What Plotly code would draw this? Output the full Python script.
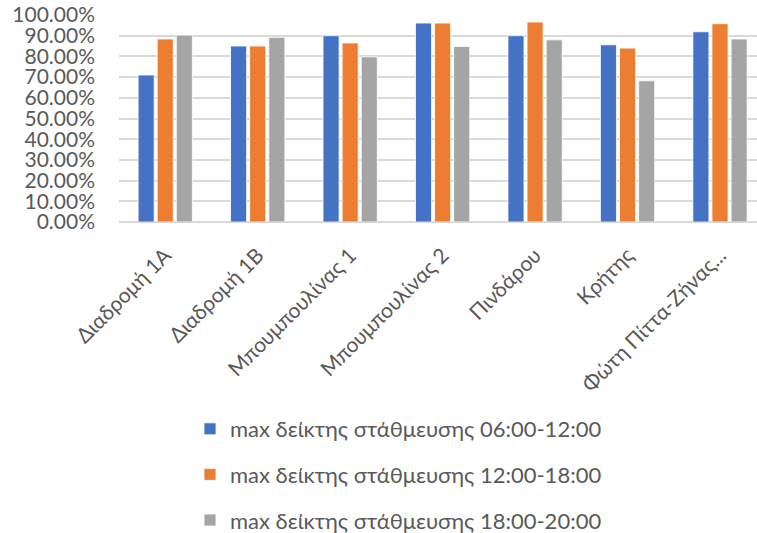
import plotly.graph_objects as go

# Peak parking occupancy per street segment, by time window
categories = ["Διαδρομή 1Α", "Διαδρομή 1Β", "Μπουμπουλίνας 1", "Μπουμπουλίνας 2",
              "Πινδάρου", "Κρήτης", "Φώτη Πίττα-Ζήνας..."]
series_names = ["max δείκτης στάθμευσης 06:00-12:00",
                "max δείκτης στάθμευσης 12:00-18:00",
                "max δείκτης στάθμευσης 18:00-20:00"]
morning = [0.710, 0.850, 0.900, 0.961, 0.900, 0.856, 0.919]
afternoon = [0.884, 0.850, 0.865, 0.961, 0.966, 0.840, 0.958]
evening = [0.903, 0.892, 0.798, 0.848, 0.880, 0.682, 0.884]
colors = ["#4472C4", "#ED7D31", "#A5A5A5"]

TEXT = "#595959"
FONT = "Lato"

fig = go.Figure()
for i, (name, vals, col) in enumerate(zip(series_names, [morning, afternoon, evening], colors)):
    fig.add_trace(go.Bar(
        x=categories, y=vals, name=name, legendgroup=f"g{i}",
        marker=dict(color=col, line=dict(color="white", width=0.8)),
    ))

fig.update_layout(
    width=757, height=533,
    margin=dict(l=119, r=0, t=15, b=311, autoexpand=False),
    paper_bgcolor="white", plot_bgcolor="white",
    barmode="group", bargap=0.38, bargroupgap=0.16,
    font=dict(family=FONT, color=TEXT, size=22),
    showlegend=True,
    legend=dict(
        orientation="v", xref="container", yref="container",
        x=190 / 757, xanchor="left",
        y=1 - 408 / 533, yanchor="top",
        font=dict(family=FONT, size=22, color=TEXT),
        tracegroupgap=14, itemwidth=30,
    ),
    xaxis=dict(
        range=[-0.5, 6.4], tickangle=-45, showgrid=False, automargin=False,
        showline=False, ticks="", ticklabelstandoff=16,
        tickfont=dict(family=FONT, size=21, color=TEXT),
    ),
    yaxis=dict(
        range=[0, 1.0], dtick=0.1, tickformat=".2%", automargin=False,
        showgrid=True, gridcolor="#D9D9D9", gridwidth=1.5,
        zeroline=True, zerolinecolor="#D9D9D9", zerolinewidth=1.5,
        showline=False, ticks="", ticklabelstandoff=23,
        tickfont=dict(family=FONT, size=21, color=TEXT),
    ),
)

fig.write_html("out.html")
